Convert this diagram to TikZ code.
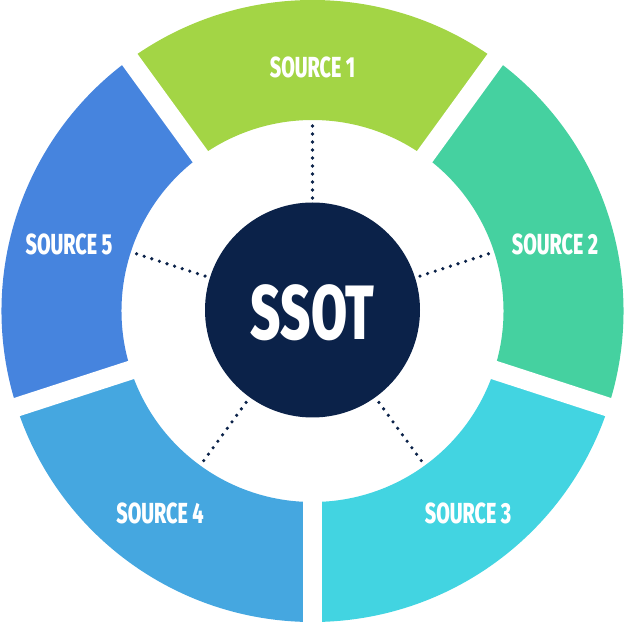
\documentclass[tikz,border=0pt]{standalone}
\usepackage{fontspec}
\usetikzlibrary{calc}
\setmainfont[FakeStretch=0.7,BoldFont={Fira Sans ExtraBold},BoldFeatures={FakeStretch=0.68}]{Fira Sans}
\definecolor{cone}{HTML}{A3D545}
\definecolor{ctwo}{HTML}{45D1A0}
\definecolor{cthree}{HTML}{42D4E1}
\definecolor{cfour}{HTML}{45A7E0}
\definecolor{cfive}{HTML}{4684DE}
\definecolor{navy}{HTML}{0B2249}
\tikzset{
  seglabel/.style={text=white,font=\fontsize{29}{29}\selectfont\bfseries,inner sep=0pt},
  gapline/.style={white,line width=19pt},
  dotline/.style={navy,line width=3.6pt,line cap=round,dash pattern=on 0pt off 8pt},
}
\begin{document}
\begin{tikzpicture}[x=1pt,y=1pt]
\useasboundingbox (0,0) rectangle (625,625);
\coordinate (c) at (312.5,314);
\def\Ro{311}
\def\Ri{191}
\foreach \a/\b/\col in {54/126/cone,-18/54/ctwo,-90/-18/cthree,198/270/cfour,126/198/cfive}{
  \fill[\col] ($(c)+(\a:\Ro)$) arc[start angle=\a,end angle=\b,radius=\Ro] -- ($(c)+(\b:\Ri)$) arc[start angle=\b,end angle=\a,radius=\Ri] -- cycle;
}
\foreach \a in {54,126,198,270,342}{
  \draw[gapline] ($(c)+(\a:150)$) -- ($(c)+(\a:340)$);
}
\node[circle,fill=navy,minimum size=215pt,inner sep=0pt] (ssot) at (312.5,315) {};
\node[text=white,font=\fontsize{77}{77}\selectfont\bfseries,inner sep=0pt] (ssottext) at (312.5,312.5) {SSOT};
\foreach \a/\n in {90/1,18/2,-54/3,234/4,162/5}{
  \coordinate (d\n) at ($(c)+(\a:185)$);
  \coordinate (e\n) at ($(c)+(\a:113)$);
  \draw[dotline] (e\n) -- (d\n);
}
\node[seglabel] (s1) at (312.5,558) {SOURCE 1};
\node[seglabel] (s2) at (555,381) {SOURCE 2};
\node[seglabel] (s3) at (468,112) {SOURCE 3};
\node[seglabel] (s4) at (160,112) {SOURCE 4};
\node[seglabel] (s5) at (69,381) {SOURCE 5};
\end{tikzpicture}
\end{document}
